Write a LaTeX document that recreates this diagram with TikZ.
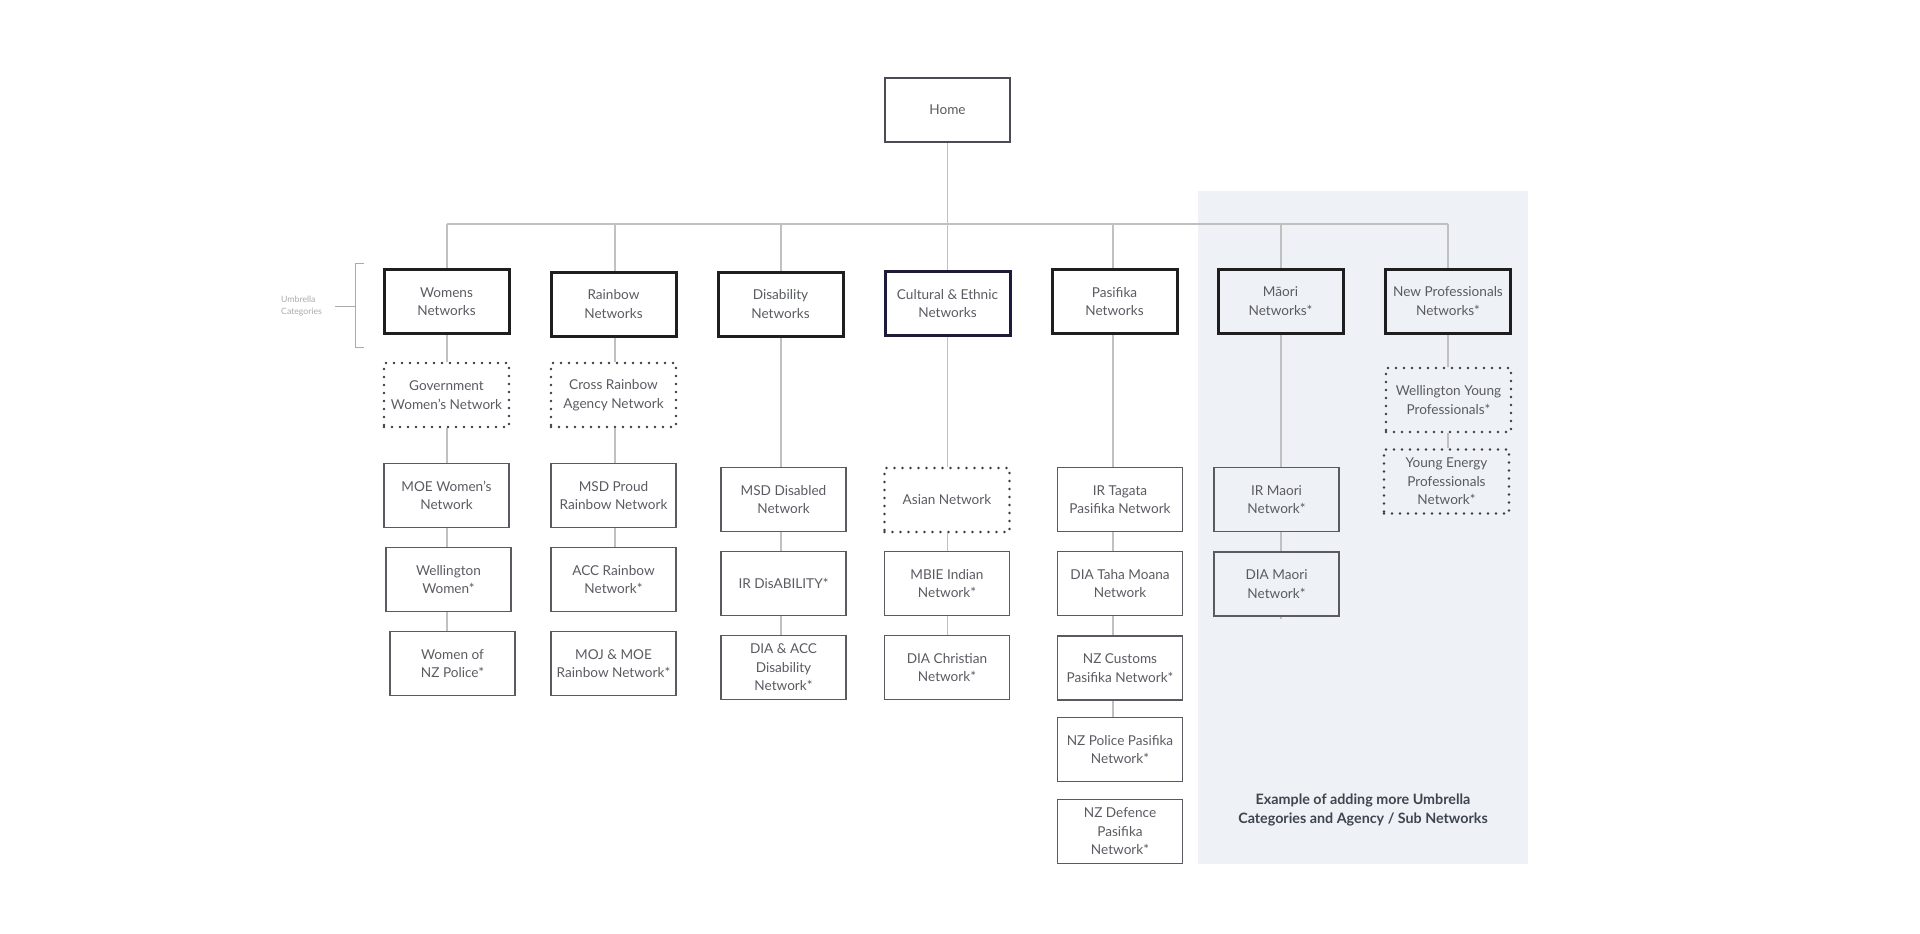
\documentclass[tikz,border=0pt]{standalone}
\usepackage{fontspec}
\setmainfont{Lato}
\definecolor{txt}{HTML}{595B61}
\definecolor{connc}{HTML}{C0C0C0}
\definecolor{catc}{HTML}{1E1E1E}
\definecolor{navyc}{HTML}{1C1C3A}
\definecolor{homec}{HTML}{4A4B55}
\definecolor{subc}{HTML}{5A5B60}
\definecolor{dotc}{HTML}{3A3B40}
\definecolor{panelc}{HTML}{EEF2F6}
\definecolor{umbc}{HTML}{ABABAB}
\definecolor{paneltxt}{HTML}{3F4550}
\begin{document}
\begin{tikzpicture}[x=1pt,y=-1pt,
  box/.style={rectangle, minimum width=125pt, minimum height=64pt, align=center, text=txt, font=\fontsize{13.6}{18.5}\selectfont, inner sep=2pt},
  homebox/.style={box, draw=homec, line width=2.5pt},
  catbox/.style={box, draw=catc, line width=3pt},
  subbox/.style={box, draw=subc, line width=1.8pt},
  dotbox/.style={box, draw=dotc, line width=2.6pt, dash pattern=on 0pt off 8pt, line cap=round},
  link/.style={draw=connc, line width=1.5pt},
  umbline/.style={draw=umbc, line width=1pt}
]
\useasboundingbox (0,0) rectangle (1920,934);
\fill[panelc] (1198,191) rectangle (1528,864);

% nodes
\node[homebox] (home) at (947.5,110) {Home};

\node[catbox] (womens) at (446.5,301.5) {Womens\\Networks};
\node[catbox] (rainbow) at (613.5,304) {Rainbow\\Networks};
\node[catbox] (disab) at (780.5,304) {Disability\\Networks};
\node[catbox, draw=navyc] (cultural) at (947.5,303.5) {Cultural \& Ethnic\\Networks};
\node[catbox] (pasifika) at (1114.5,301.5) {Pasifika\\Networks};
\node[catbox] (maori) at (1280.5,301) {Māori\\Networks*};
\node[catbox] (newprof) at (1448,301) {New Professionals\\Networks*};

\node[dotbox] (gov) at (446.5,395) {Government\\Women’s Network};
\node[subbox] (moe) at (446.5,495.5) {MOE Women’s\\Network};
\node[subbox] (wellw) at (448.5,579.5) {Wellington\\Women*};
\node[subbox] (wpol) at (452.5,663.5) {Women of\\NZ Police*};

\node[dotbox] (cross) at (613.5,395) {Cross Rainbow\\Agency Network};
\node[subbox] (msdp) at (613.5,495.5) {MSD Proud\\Rainbow Network};
\node[subbox] (accr) at (613.5,579.5) {ACC Rainbow\\Network*};
\node[subbox] (moj) at (613.5,663.5) {MOJ \& MOE\\Rainbow Network*};

\node[subbox] (msdd) at (783.5,499.5) {MSD Disabled\\Network};
\node[subbox] (irdis) at (783.5,583.5) {IR DisABILITY*};
\node[subbox] (diaacc) at (783.5,667.5) {DIA \& ACC\\Disability\\Network*};

\node[dotbox] (asian) at (947,500) {Asian Network};
\node[subbox] (mbie) at (947,583.5) {MBIE Indian\\Network*};
\node[subbox] (diachr) at (947,667.5) {DIA Christian\\Network*};

\node[subbox] (irtag) at (1120,499.5) {IR Tagata\\Pasifika Network};
\node[subbox] (diataha) at (1120,583.5) {DIA Taha Moana\\Network};
\node[subbox] (customs) at (1120,668) {NZ Customs\\Pasifika Network*};
\node[subbox] (police) at (1120,749.5) {NZ Police Pasifika\\Network*};
\node[subbox] (defence) at (1120,831.5) {NZ Defence\\Pasifika\\Network*};

\node[subbox] (irmaori) at (1276.5,499.5) {IR Maori\\Network*};
\node[subbox] (diamaori) at (1276.5,584) {DIA Maori\\Network*};

\node[dotbox] (wyp) at (1448.5,400) {Wellington Young\\Professionals*};
\node[dotbox] (yep) at (1446.5,481.5) {Young Energy\\Professionals\\Network*};

% bus
\coordinate (busL) at (447,224);
\coordinate (busR) at (1448,224);
\coordinate (colW) at (447,0);
\coordinate (colR) at (615,0);
\coordinate (colD) at (781,0);
\coordinate (colC) at (947.5,0);
\coordinate (colP) at (1113,0);
\coordinate (colM) at (1281,0);
\coordinate (colN) at (1448,0);

\draw[link] (home.south) -- (home.south |- busL);
\draw[link] (busL) -- (busR);
\foreach \n/\c in {womens/colW, rainbow/colR, disab/colD, cultural/colC, pasifika/colP, maori/colM, newprof/colN}{
  \draw[link] (busL -| \c) -- (\n.north -| \c);
}

% column links
\foreach \a/\b/\c in {womens/gov/colW, gov/moe/colW, moe/wellw/colW, wellw/wpol/colW,
  rainbow/cross/colR, cross/msdp/colR, msdp/accr/colR,
  disab/msdd/colD, msdd/irdis/colD, irdis/diaacc/colD,
  cultural/asian/colC, asian/mbie/colC, mbie/diachr/colC,
  pasifika/irtag/colP, irtag/diataha/colP, diataha/customs/colP, customs/police/colP,
  maori/irmaori/colM, irmaori/diamaori/colM,
  newprof/wyp/colN, wyp/yep/colN}{
  \draw[link] (\a.south -| \c) -- (\b.north -| \c);
}
\coordinate (stub) at (1281,619);
\draw[link] (diamaori.south -| colM) -- (stub);

% umbrella bracket
\coordinate (brT) at (364,263);
\coordinate (brB) at (364,347);
\coordinate (brM) at (355,306);
\draw[umbline] (brT) -- (355,263) -- (355,347) -- (brB);
\node[anchor=west, align=left, inner sep=0pt, text=umbc, font=\fontsize{8.7}{12}\selectfont] (umb) at (281,306) {Umbrella\\Categories};
\draw[umbline] (335,306) -- (brM);

% panel caption
\node[align=center, text=paneltxt, font=\bfseries\fontsize{14.3}{19}\selectfont] (caption) at (1363,810) {Example of adding more Umbrella\\Categories and Agency / Sub Networks};
\end{tikzpicture}
\end{document}
